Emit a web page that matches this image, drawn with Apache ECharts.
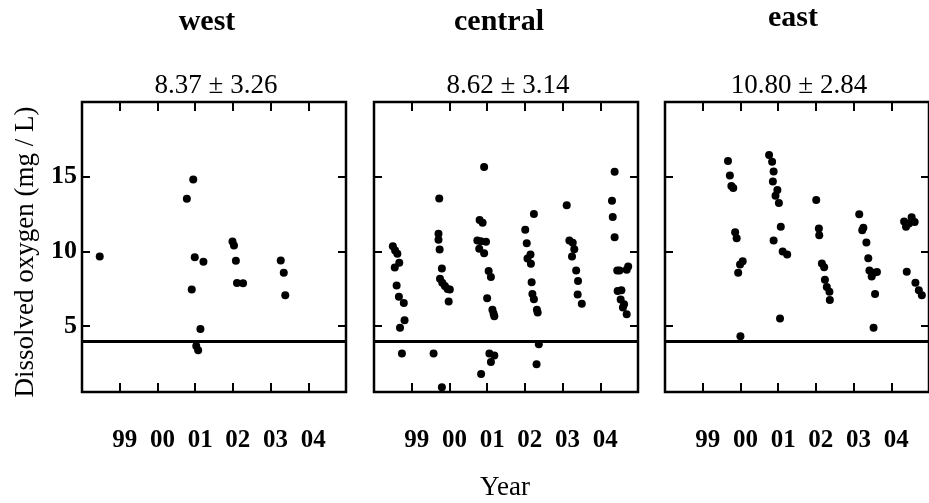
<!DOCTYPE html>
<html>
<head>
<meta charset="utf-8">
<script src="https://cdn.jsdelivr.net/npm/echarts@6/dist/echarts.min.js"></script>
<style>
  html, body { margin: 0; padding: 0; background: #fff; }
  #chart { width: 929px; height: 503px; }
</style>
</head>
<body>
<div id="chart"></div>
<script>
// panel names and mean ± sd shown above each panel
const regions = ['west', 'central', 'east'];
const regionStats = ['8.37 ± 3.26', '8.62 ± 3.14', '10.80 ± 2.84'];

// x ticks (years) and their labels, y ticks
const yearTicks = [1999, 2000, 2001, 2002, 2003, 2004];
const yearLabels = ['99', '00', '01', '02', '03', '04'];
const doTicks = [5, 10, 15];
const threshold = 4;

// west samples
const westYear = [1998.47, 2000.78, 2000.95, 2000.99, 2001.22, 2000.91, 2001.14, 2001.03, 2001.08,
  2001.99, 2002.03, 2002.08, 2002.11, 2002.27, 2003.27, 2003.35, 2003.39];
const westDO = [9.67, 13.53, 14.82, 9.62, 9.31, 7.45, 4.82, 3.67, 3.40,
  10.67, 10.40, 9.38, 7.89, 7.87, 9.40, 8.58, 7.07];

// central samples
const centralYear = [
  1998.50, 1998.56, 1998.62, 1998.67, 1998.55, 1998.60, 1998.66, 1998.79, 1998.81, 1998.69, 1998.74,
  1999.73, 1999.71, 1999.71, 1999.74, 1999.80, 1999.75, 1999.81, 1999.88, 1999.95, 2000.01, 1999.98, 1999.58, 1999.80,
  2000.92, 2000.80, 2000.88, 2000.74, 2000.83, 2000.97, 2000.79, 2000.92, 2001.04, 2001.10, 2001.00, 2001.14, 2001.17,
  2001.19, 2001.06, 2001.19, 2001.10, 2000.84,
  2002.24, 2002.01, 2002.05, 2002.15, 2002.07, 2002.16, 2002.18, 2002.20, 2002.24, 2002.32, 2002.34, 2002.37, 2002.31,
  2003.11, 2003.18, 2003.27, 2003.31, 2003.25, 2003.36, 2003.41, 2003.40, 2003.51,
  2004.38, 2004.31, 2004.33, 2004.38, 2004.45, 2004.51, 2004.70, 2004.74, 2004.46, 2004.56, 2004.54, 2004.63, 2004.60, 2004.70
];
const centralDO = [
  10.35, 10.07, 9.85, 9.25, 8.93, 7.73, 6.98, 6.55, 5.40, 4.89, 3.18,
  13.55, 11.18, 10.78, 10.13, 8.87, 8.18, 7.91, 7.69, 7.49, 7.45, 6.65, 3.18, 0.91,
  15.65, 12.11, 11.93, 10.73, 10.69, 10.65, 10.18, 9.89, 8.69, 8.29, 6.87, 6.11, 5.85,
  5.67, 3.18, 3.05, 2.60, 1.80,
  12.51, 11.45, 10.55, 9.80, 9.53, 9.18, 7.95, 7.15, 6.80, 6.11, 5.91, 3.80, 2.45,
  13.09, 10.73, 10.58, 10.15, 9.67, 8.73, 8.02, 7.13, 6.51,
  15.33, 13.40, 12.31, 10.95, 8.73, 8.73, 8.78, 9.00, 7.35, 7.40, 6.78, 6.47, 6.25, 5.80
];

// east samples
const eastYear = [
  1999.67, 1999.72, 1999.76, 1999.81, 1999.86, 1999.90, 2000.06, 1999.99, 1999.94, 2000.00,
  2000.76, 2000.84, 2000.88, 2000.86, 2000.98, 2000.93, 2001.02, 2001.07, 2000.88, 2001.12, 2001.24, 2001.05,
  2002.01, 2002.08, 2002.09, 2002.16, 2002.22, 2002.24, 2002.29, 2002.36, 2002.37,
  2003.15, 2003.26, 2003.23, 2003.34, 2003.39, 2003.42, 2003.48, 2003.54, 2003.62, 2003.57, 2003.53,
  2004.34, 2004.39, 2004.47, 2004.54, 2004.62, 2004.41, 2004.64, 2004.73, 2004.81
];
const eastDO = [
  16.05, 15.09, 14.38, 14.25, 11.29, 10.89, 9.35, 9.13, 8.58, 4.33,
  16.45, 16.00, 15.35, 14.69, 14.11, 13.73, 13.25, 11.65, 10.73, 10.00, 9.80, 5.51,
  13.45, 11.53, 11.09, 9.20, 8.95, 8.11, 7.62, 7.31, 6.75,
  12.49, 11.58, 11.42, 10.60, 9.55, 8.73, 8.33, 8.58, 8.62, 7.15, 4.89,
  12.00, 11.65, 11.87, 12.29, 11.98, 8.65, 7.91, 7.40, 7.07
];

const yearsByRegion = [westYear, centralYear, eastYear];
const doByRegion = [westDO, centralDO, eastDO];

const serif = "'Liberation Serif', 'Times New Roman', serif";
const panelLeft = [82, 374, 665];
const panelWidth = 264;
const panelTop = 102;
const panelHeight = 290;
const titleX = [207, 499, 793];
const titleY = [22, 22, 18];

const grids = [], xAxes = [], yAxes = [], series = [], texts = [];

regions.forEach((name, i) => {
  grids.push({
    left: panelLeft[i], top: panelTop, width: panelWidth, height: panelHeight,
    show: true, borderColor: '#000', borderWidth: 2.5, backgroundColor: 'transparent'
  });

  const tick = { show: true, inside: true, length: 9, lineStyle: { color: '#000', width: 2 }, customValues: yearTicks };
  xAxes.push({
    type: 'value', gridIndex: i, position: 'bottom', min: 1998, max: 2005,
    axisLine: { show: false }, splitLine: { show: false }, axisTick: tick,
    axisLabel: {
      customValues: yearTicks,
      formatter: v => yearLabels[yearTicks.indexOf(v)],
      margin: 49, verticalAlign: 'middle', padding: [0, 0, 0, 10],
      color: '#000', fontFamily: serif, fontWeight: 'bold', fontSize: 25
    }
  });
  xAxes.push({
    type: 'value', gridIndex: i, position: 'top', min: 1998, max: 2005,
    axisLine: { show: false }, splitLine: { show: false }, axisTick: tick,
    axisLabel: { show: false }
  });

  const ytick = { show: true, inside: true, length: 8, lineStyle: { color: '#000', width: 2 }, customValues: doTicks };
  yAxes.push({
    type: 'value', gridIndex: i, position: 'left', min: 0.6, max: 20,
    axisLine: { show: false }, splitLine: { show: false }, axisTick: ytick,
    axisLabel: {
      show: i === 0, customValues: doTicks, margin: 5,
      color: '#000', fontFamily: serif, fontWeight: 'bold', fontSize: 26
    }
  });
  yAxes.push({
    type: 'value', gridIndex: i, position: 'right', min: 0.6, max: 20,
    axisLine: { show: false }, splitLine: { show: false }, axisTick: ytick,
    axisLabel: { show: false }
  });

  series.push({
    type: 'scatter', name: name,
    xAxisIndex: 2 * i, yAxisIndex: 2 * i,
    data: yearsByRegion[i].map((yr, k) => [yr, doByRegion[i][k]]),
    symbol: 'circle', symbolSize: 8,
    itemStyle: { color: '#000', opacity: 1 },
    markLine: {
      silent: true, symbol: 'none', label: { show: false },
      lineStyle: { color: '#000', width: 3, type: 'solid', opacity: 1 },
      data: [{ yAxis: threshold }]
    }
  });

  texts.push({
    type: 'text', x: titleX[i], y: titleY[i],
    style: { text: name, align: 'center', verticalAlign: 'middle', textAlign: 'center', textVerticalAlign: 'middle',
      font: 'bold 30px ' + serif, fill: '#000' }
  });
  texts.push({
    type: 'text', x: panelLeft[i] + panelWidth / 2 + 2, y: 86,
    style: { text: regionStats[i], align: 'center', verticalAlign: 'middle', textAlign: 'center', textVerticalAlign: 'middle',
      font: '27px ' + serif, fill: '#000' }
  });
});

texts.push({
  type: 'text', x: 26, y: 252, rotation: Math.PI / 2,
  style: { text: 'Dissolved oxygen (mg / L)', align: 'center', verticalAlign: 'middle', textAlign: 'center', textVerticalAlign: 'middle',
    font: '27px ' + serif, fill: '#000' }
});
texts.push({
  type: 'text', x: 505, y: 488,
  style: { text: 'Year', align: 'center', verticalAlign: 'middle', textAlign: 'center', textVerticalAlign: 'middle',
    font: '27px ' + serif, fill: '#000' }
});

const chart = echarts.init(document.getElementById('chart'));
chart.setOption({
  animation: false,
  backgroundColor: '#fff',
  grid: grids,
  xAxis: xAxes,
  yAxis: yAxes,
  series: series,
  graphic: texts
});
</script>
</body>
</html>
